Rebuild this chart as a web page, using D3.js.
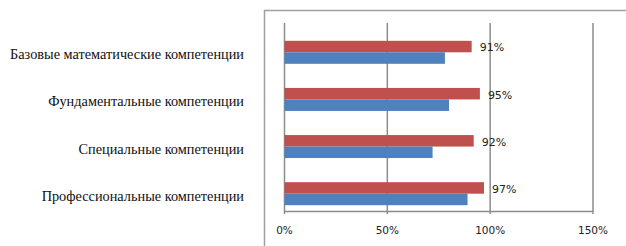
<!DOCTYPE html>
<html>
<head>
<meta charset="utf-8">
<script src="https://cdn.jsdelivr.net/npm/d3@7"></script>
<style>
  body { margin: 0; background: #fff; }
  .cat { font-family: "Liberation Serif", "Times New Roman", serif; font-size: 14.3px; fill: #111; }
  .tick-lbl { font-family: "DejaVu Sans", sans-serif; font-size: 10.5px; fill: #222; }
  .val { font-family: "DejaVu Sans", sans-serif; font-size: 11px; fill: #222; }
</style>
</head>
<body>
<div id="chart"></div>
<script>
const categories = ["Базовые математические компетенции", "Фундаментальные компетенции",
                    "Специальные компетенции", "Профессиональные компетенции"];
const redValues = [91, 95, 92, 97];
const blueValues = [78, 80, 72, 89];
const ticks = [0, 50, 100, 150];

const W = 626, H = 246;

const svg = d3.select("#chart").append("svg")
    .attr("width", W)
    .attr("height", H);

// outer frame (cut off at right/bottom like the reference)
svg.append("path")
    .attr("d", "M264.5,246 V10.5 H626")
    .attr("fill", "none")
    .attr("stroke", "#a0a0a0")
    .attr("stroke-width", 1.5);

const x = d3.scaleLinear().domain([0, 150]).range([284.5, 593]);
const y = d3.scaleBand().domain(categories).range([23, 211.5]);
// three slots per category: an empty one, then red, then blue
const sub = d3.scaleBand().domain(["empty", "red", "blue"]).range([0, y.bandwidth()]).paddingOuter(0.55);

// gridlines
svg.append("g").selectAll("line")
    .data(ticks)
    .enter().append("line")
      .attr("x1", d => x(d)).attr("x2", d => x(d))
      .attr("y1", 23).attr("y2", 214)
      .attr("stroke", "#8c8c8c")
      .attr("stroke-width", 1.5);

// axis line
svg.append("line")
    .attr("x1", x(0)).attr("x2", x(150))
    .attr("y1", 211.5).attr("y2", 211.5)
    .attr("stroke", "#8c8c8c")
    .attr("stroke-width", 1.5);

svg.append("g").selectAll("text")
    .data(ticks)
    .enter().append("text")
      .attr("class", "tick-lbl")
      .attr("x", d => x(d))
      .attr("y", 230)
      .attr("dy", "0.35em")
      .attr("text-anchor", "middle")
      .text(d => d + "%");

const rows = categories.map((c, i) => ({ cat: c, red: redValues[i], blue: blueValues[i] }));

svg.append("g").selectAll("rect.red")
    .data(rows)
    .enter().append("rect")
      .attr("x", x(0))
      .attr("y", d => y(d.cat) + sub("red"))
      .attr("width", d => x(d.red) - x(0))
      .attr("height", sub.bandwidth())
      .attr("fill", "#C0504D");

svg.append("g").selectAll("rect.blue")
    .data(rows)
    .enter().append("rect")
      .attr("x", x(0))
      .attr("y", d => y(d.cat) + sub("blue"))
      .attr("width", d => x(d.blue) - x(0))
      .attr("height", sub.bandwidth())
      .attr("fill", "#4F81BD");

svg.append("g").selectAll("text")
    .data(rows)
    .enter().append("text")
      .attr("class", "val")
      .attr("x", d => x(d.red) + 8)
      .attr("y", d => y(d.cat) + sub("red") + sub.bandwidth() / 2 + 1)
      .attr("dy", "0.35em")
      .text(d => d.red + "%");

svg.append("g").selectAll("text")
    .data(rows)
    .enter().append("text")
      .attr("class", "cat")
      .attr("x", 244)
      .attr("y", d => y(d.cat) + sub("blue") + 2)
      .attr("dy", "0.35em")
      .attr("text-anchor", "end")
      .text(d => d.cat);
</script>
</body>
</html>
